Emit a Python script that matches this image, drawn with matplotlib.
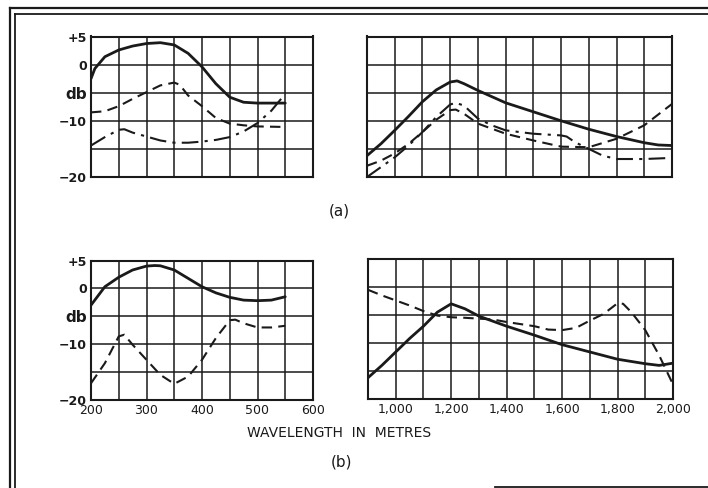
import matplotlib
matplotlib.use("Agg")
import matplotlib.pyplot as plt
from matplotlib.lines import Line2D
from matplotlib.ticker import MultipleLocator

# ---------------- data ----------------
# (a) left panel: medium-wave, 200-550 m
a_left_x = [200, 207, 225, 250, 275, 300, 325, 350, 375, 400, 425, 450, 475, 500, 525, 550]
a_left_solid = [-2.5, -0.7, 1.4, 2.6, 3.3, 3.75, 3.9, 3.5, 2.0, -0.4, -3.4, -5.8, -6.7, -6.85, -6.85, -6.85]
a_left_dash_x = [200, 225, 250, 275, 300, 325, 350, 360, 375, 400, 425, 450, 475, 500, 525, 550]
a_left_dash = [-8.5, -8.3, -7.4, -6.1, -4.9, -3.7, -3.2, -3.6, -5.5, -7.4, -9.5, -10.5, -10.8, -11.0, -11.05, -11.1]
a_left_dd_x = [200, 225, 250, 260, 275, 300, 325, 350, 375, 400, 425, 450, 475, 500, 525, 550]
a_left_dd = [-14.4, -12.9, -11.6, -11.5, -12.1, -12.8, -13.5, -13.9, -13.9, -13.7, -13.4, -12.9, -11.9, -10.4, -8.2, -5.2]

# (a) right panel: long-wave, 900-2000 m
a_right_x = [900, 950, 1000, 1050, 1100, 1150, 1200, 1225, 1250, 1300, 1350, 1400, 1500, 1600, 1700, 1800, 1900, 1950, 2000]
a_right_solid = [-16.2, -14.1, -11.7, -9.2, -6.6, -4.5, -3.1, -2.9, -3.4, -4.6, -5.7, -6.8, -8.4, -10.0, -11.5, -12.8, -13.9, -14.3, -14.4]
a_right_dash_x = [900, 950, 1000, 1050, 1100, 1150, 1200, 1220, 1250, 1300, 1400, 1500, 1600, 1700, 1800, 1900, 2000]
a_right_dash = [-18.0, -17.1, -15.8, -14.1, -12.0, -9.8, -8.1, -8.0, -8.75, -10.5, -12.3, -13.5, -14.6, -14.7, -13.2, -10.8, -7.0]
a_right_dd_x = [900, 1000, 1050, 1100, 1150, 1200, 1220, 1250, 1300, 1350, 1400, 1500, 1600, 1620, 1650, 1700, 1750, 1800, 1900, 2000]
a_right_dd = [-20.0, -16.5, -14.4, -12.0, -9.3, -7.1, -6.8, -7.3, -9.6, -10.8, -11.7, -12.3, -12.6, -12.8, -13.8, -15.0, -16.2, -16.8, -16.8, -16.6]

# (b) left panel
b_left_x = [200, 225, 250, 275, 300, 315, 325, 350, 375, 400, 425, 450, 475, 500, 525, 550]
b_left_solid = [-3.0, 0.3, 2.0, 3.3, 4.0, 4.1, 4.05, 3.3, 1.8, 0.3, -0.8, -1.6, -2.1, -2.2, -2.1, -1.5]
b_left_dash_x = [200, 225, 250, 260, 275, 300, 325, 350, 375, 400, 425, 450, 460, 475, 500, 525, 550]
b_left_dash = [-17.0, -13.4, -8.6, -8.3, -10.1, -12.8, -15.5, -17.1, -15.8, -12.8, -8.9, -5.7, -5.6, -6.25, -7.0, -7.0, -6.7]

# (b) right panel
b_right_x = [900, 950, 1000, 1050, 1100, 1150, 1200, 1250, 1300, 1400, 1500, 1600, 1700, 1800, 1900, 1950, 2000]
b_right_solid = [-16.2, -14.0, -11.6, -9.2, -7.0, -4.5, -3.0, -3.9, -5.2, -7.0, -8.6, -10.3, -11.6, -12.9, -13.7, -14.0, -13.6]
b_right_dash_x = [900, 950, 1000, 1050, 1100, 1150, 1200, 1250, 1300, 1350, 1400, 1500, 1550, 1600, 1650, 1700, 1750, 1800, 1820, 1850, 1900, 1950, 2000]
b_right_dash = [-0.5, -1.5, -2.4, -3.3, -4.3, -5.1, -5.4, -5.5, -5.65, -5.8, -6.25, -7.0, -7.6, -7.7, -7.3, -6.0, -4.8, -2.9, -3.0, -4.5, -7.7, -12.2, -17.4]

y_ticks = [-20, -15, -10, -5, 0, 5]
y_labels = ["\u221220", "", "\u221210", "db", "0", "+5"]
left_xticks = [200, 300, 400, 500, 600]
left_xlabels = ["200", "300", "400", "500", "600"]
right_xticks = [1000, 1200, 1400, 1600, 1800, 2000]
right_xlabels = ["1,000", "1,200", "1,400", "1,600", "1,800", "2,000"]

# ---------------- figure ----------------
W, H = 708, 488
fig = plt.figure(figsize=(W / 100, H / 100), dpi=100)
fig.patch.set_facecolor("white")

def px_axes(x0, y0, x1, y1):
    return fig.add_axes([x0 / W, 1 - y1 / H, (x1 - x0) / W, (y1 - y0) / H])

ink = "#1a1a1a"
solid_kw = dict(color=ink, lw=2.0, solid_capstyle="round")
dash_kw = dict(color=ink, lw=1.5, dashes=(5, 3))
dd_kw = dict(color=ink, lw=1.5, dashes=(8, 3, 1.5, 3))

def style(ax, left):
    if left:
        ax.set_xlim(200, 600)
        ax.xaxis.set_major_locator(MultipleLocator(100))
        ax.xaxis.set_minor_locator(MultipleLocator(50))
    else:
        ax.set_xlim(900, 2000)
        ax.xaxis.set_major_locator(MultipleLocator(200))
        ax.xaxis.set_minor_locator(MultipleLocator(100))
    ax.set_ylim(-20, 5)
    ax.set_yticks(y_ticks)
    ax.grid(True, which="both", color=ink, lw=1.1)
    ax.tick_params(which="both", length=0)
    for s in ax.spines.values():
        s.set_linewidth(1.5)
        s.set_color(ink)
    ax.set_axisbelow(True)

def ylabels(ax):
    ax.set_yticklabels(y_labels, fontsize=9, fontweight="bold", color=ink)
    ax.tick_params(axis="y", pad=3)
    for lab in ax.get_yticklabels():
        if lab.get_text() == "db":
            lab.set_fontsize(11)

# (a) left
ax1 = px_axes(91, 36.5, 313, 177)
style(ax1, True)
ax1.plot(a_left_x, a_left_solid, **solid_kw)
ax1.plot(a_left_dash_x, a_left_dash, **dash_kw)
ax1.plot(a_left_dd_x, a_left_dd, **dd_kw)
ylabels(ax1)
ax1.set_xticklabels([])

# (a) right
ax2 = px_axes(367, 36.5, 672, 177)
style(ax2, False)
ax2.plot(a_right_x, a_right_solid, **solid_kw)
ax2.plot(a_right_dash_x, a_right_dash, **dash_kw)
ax2.plot(a_right_dd_x, a_right_dd, **dd_kw)
ax2.set_xticklabels([])
ax2.set_yticklabels([])

# (b) left
ax3 = px_axes(91, 260.5, 313, 400)
style(ax3, True)
ax3.plot(b_left_x, b_left_solid, **solid_kw)
ax3.plot(b_left_dash_x, b_left_dash, **dash_kw)
ylabels(ax3)
ax3.set_xticks(left_xticks)
ax3.set_xticklabels(left_xlabels, fontsize=9, color=ink)
ax3.tick_params(axis="x", pad=3)

# (b) right
ax4 = px_axes(368, 259, 673, 399)
style(ax4, False)
ax4.plot(b_right_x, b_right_solid, **solid_kw)
ax4.plot(b_right_dash_x, b_right_dash, **dash_kw)
ax4.set_yticklabels([])
ax4.set_xticks(right_xticks)
ax4.set_xticklabels(right_xlabels, fontsize=9, color=ink)
ax4.tick_params(axis="x", pad=3)

# captions
fig.text(339 / W, 1 - 433 / H, "WAVELENGTH  IN  METRES", ha="center", va="center",
         fontsize=10, color=ink)
fig.text(339 / W, 1 - 211 / H, "(a)", ha="center", va="center", fontsize=11, color=ink)
fig.text(342 / W, 1 - 462 / H, "(b)", ha="center", va="center", fontsize=11, color=ink)

# frame (double rule top and left, partial rule at bottom)
def fline(x0, y0, x1, y1, lw=1.6):
    fig.add_artist(Line2D([x0 / W, x1 / W], [1 - y0 / H, 1 - y1 / H],
                          transform=fig.transFigure, color=ink, lw=lw))

fline(10, 8, 708, 8)
fline(15, 13.5, 708, 13.5, lw=1.3)
fline(10, 8, 10, 488)
fline(15, 13.5, 15, 488, lw=1.3)
fline(495, 486.5, 708, 486.5, lw=1.3)

fig.savefig("out.png", dpi=100, facecolor="white")
